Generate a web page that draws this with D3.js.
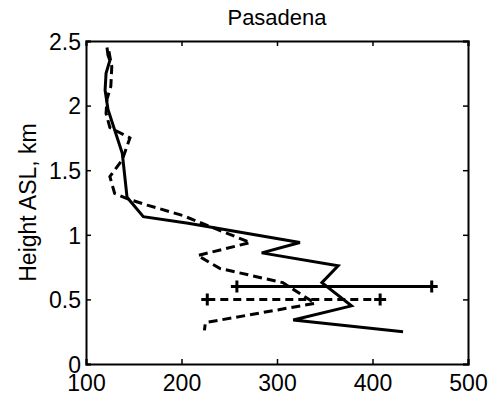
<!DOCTYPE html>
<html>
<head>
<meta charset="utf-8">
<script src="https://cdnjs.cloudflare.com/ajax/libs/d3/7.8.5/d3.min.js"></script>
<style>
  body { margin: 0; background: #fff; }
  svg { display: block; }
  text { font-family: "Liberation Sans", Arial, sans-serif; fill: #000; }
</style>
</head>
<body>
<div id="chart"></div>
<script>
var TITLE = 'Pasadena';
var Y_LABEL = 'Height ASL, km';

var X_TICKS = [100, 200, 300, 400, 500];
var Y_TICKS = [0, 0.5, 1, 1.5, 2, 2.5];

// solid profile
var SOLID_H = [2.45, 2.39, 2.35, 2.25, 2.12, 1.97, 1.63, 1.29, 1.14, 1.09, 0.94, 0.86, 0.76, 0.63, 0.45, 0.34, 0.25];
var SOLID_X = [122, 123, 125, 121, 120, 123, 138, 143, 160, 207, 324, 284, 364, 347, 378, 317, 432];

// dashed profile
var DASH_H = [2.42, 2.30, 2.15, 2.05, 1.94, 1.83, 1.75, 1.58, 1.45, 1.32, 1.28, 1.23, 1.15, 0.94, 0.84, 0.74, 0.63, 0.47, 0.32, 0.26];
var DASH_X = [124, 127, 126, 122, 121, 125, 146, 138, 125, 130, 143, 164, 201, 272, 217, 240, 306, 340, 225, 224];

// horizontal error bars: [solid, dashed]
var ERR_H = [0.6, 0.5];
var ERR_LO = [258, 227];
var ERR_HI = [462, 408];
var ERR_DASH = [null, '8,5'];

function drawChart(selector) {
    var W = 490, H = 398,
        left = 86, right = 468, top = 41, bottom = 364;

    var x = d3.scaleLinear().domain([100, 500]).range([left, right]);
    var y = d3.scaleLinear().domain([0, 2.5]).range([bottom, top]);

    var svg = d3.select(selector).append('svg')
        .attr('width', W)
        .attr('height', H);

    svg.append('text')
        .attr('x', (left + right) / 2)
        .attr('y', 25)
        .attr('text-anchor', 'middle')
        .style('font-size', '22px')
        .text(TITLE);

    svg.append('text')
        .attr('transform', 'translate(' + 36 + ',' + ((top + bottom) / 2) + ') rotate(-90)')
        .attr('text-anchor', 'middle')
        .style('font-size', '23px')
        .text(Y_LABEL);

    // axes with inward ticks, mirrored
    var axes = [
        { ax: d3.axisBottom(x).tickValues(X_TICKS).tickSize(-5), tr: [0, bottom], labels: true },
        { ax: d3.axisTop(x).tickValues(X_TICKS).tickSize(-5), tr: [0, top], labels: false },
        { ax: d3.axisLeft(y).tickValues(Y_TICKS).tickSize(-5), tr: [left, 0], labels: true },
        { ax: d3.axisRight(y).tickValues(Y_TICKS).tickSize(-5), tr: [right, 0], labels: false }
    ];
    axes.forEach(function(a, i) {
        var g = svg.append('g')
            .attr('transform', 'translate(' + a.tr[0] + ',' + a.tr[1] + ')')
            .call(a.ax.tickFormat(a.labels ? d3.format('') : function() { return ''; }));
        g.select('.domain').attr('stroke', '#000').attr('stroke-width', 2);
        g.selectAll('.tick line').attr('stroke', '#000').attr('stroke-width', 1.5);
        g.selectAll('.tick text')
            .style('font-size', '23px')
            .style('font-family', '"Liberation Sans", Arial, sans-serif')
            .attr('fill', '#000');
        if (i === 0) g.selectAll('.tick text').attr('dy', '1.0em').attr('y', 4);
        if (i === 2) g.selectAll('.tick text').attr('x', -5).attr('dy', '0.36em');
    });

    var line = d3.line()
        .x(function(d) { return x(d[0]); })
        .y(function(d) { return y(d[1]); });

    svg.append('path')
        .datum(d3.zip(DASH_X, DASH_H))
        .attr('d', line)
        .attr('fill', 'none')
        .attr('stroke', '#000')
        .attr('stroke-width', 3)
        .attr('stroke-dasharray', '9,5');

    svg.append('path')
        .datum(d3.zip(SOLID_X, SOLID_H))
        .attr('d', line)
        .attr('fill', 'none')
        .attr('stroke', '#000')
        .attr('stroke-width', 3);

    // error bars
    ERR_H.forEach(function(h, i) {
        svg.append('line')
            .attr('x1', x(ERR_LO[i])).attr('x2', x(ERR_HI[i]))
            .attr('y1', y(h)).attr('y2', y(h))
            .attr('stroke', '#000')
            .attr('stroke-width', 3)
            .attr('stroke-dasharray', ERR_DASH[i]);
        [ERR_LO[i], ERR_HI[i]].forEach(function(v) {
            var cx = x(v), cy = y(h);
            svg.append('path')
                .attr('d', 'M' + (cx - 6) + ',' + cy + 'H' + (cx + 6) + 'M' + cx + ',' + (cy - 6) + 'V' + (cy + 6))
                .attr('stroke', '#000')
                .attr('stroke-width', 3);
        });
    });
}

drawChart('#chart');
</script>
</body>
</html>
